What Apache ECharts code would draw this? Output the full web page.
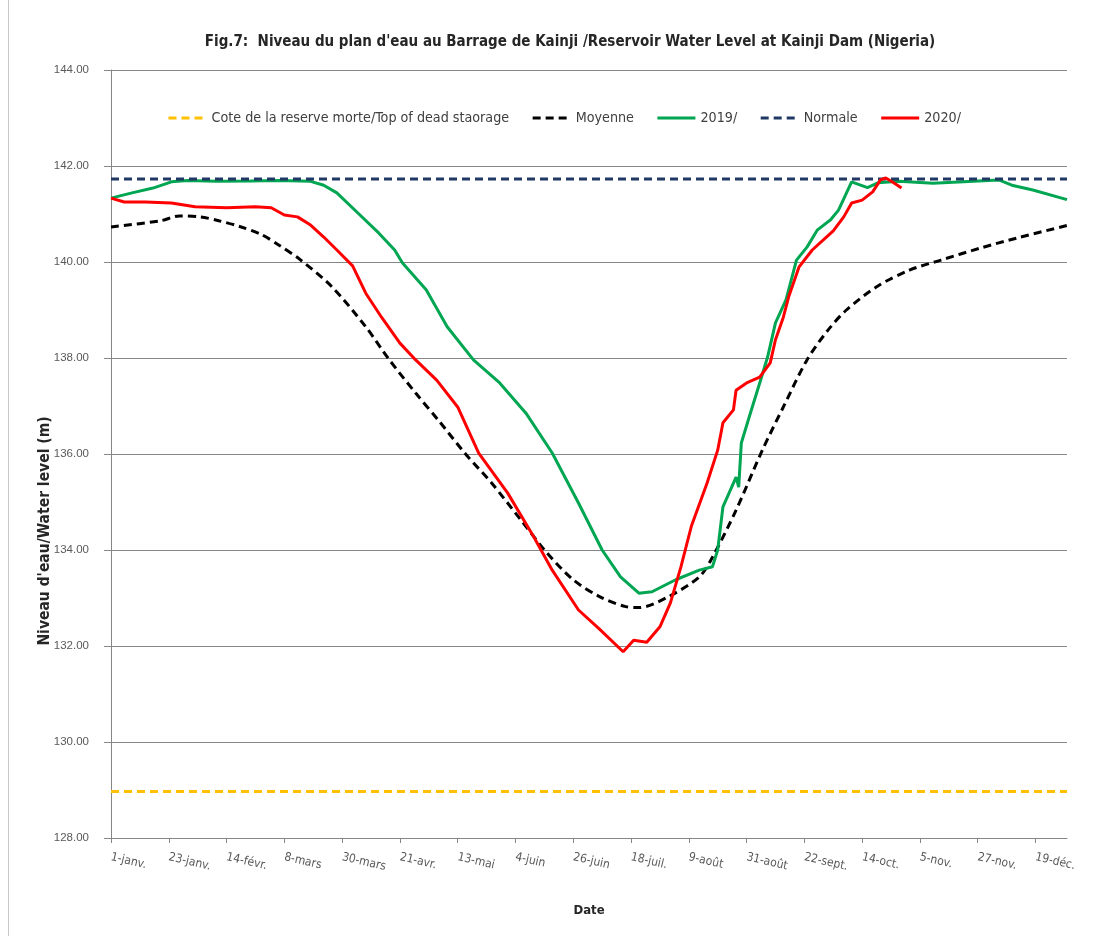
<!DOCTYPE html>
<html>
<head>
<meta charset="utf-8">
<script src="https://cdn.jsdelivr.net/npm/echarts@6/dist/echarts.min.js"></script>
<style>
html,body{margin:0;padding:0;background:#fff;}
#chart{width:1108px;height:936px;}
</style>
</head>
<body>
<div id="chart"></div>
<script>
// ---- Data (day of year, 0 = 1-janv.) ----
const tickLabels = ['1-janv.','23-janv.','14-févr.','8-mars','30-mars','21-avr.','13-mai','4-juin','26-juin','18-juil.','9-août','31-août','22-sept.','14-oct.','5-nov.','27-nov.','19-déc.'];
const yTicks = [128,130,132,134,136,138,140,142,144];

const deadStorageLevel = 128.97;
const normaleLevel = 141.73;

const moyDays = [0,19,26,34,41,49,57,64,72,84,97,106,116,125,135,145,156,166,176,186,196,201,212,224,229,238,248,256,265,273,280,292,304,316,331,345,364];
const moyVals = [140.73,140.86,140.96,140.94,140.86,140.74,140.58,140.35,140.05,139.49,138.65,137.96,137.27,136.68,136.0,135.39,134.63,133.94,133.38,133.03,132.82,132.8,133.02,133.44,133.85,134.83,136.08,136.98,137.96,138.58,139.0,139.5,139.83,140.04,140.29,140.5,140.76];

const y2019Days = [0,8,16,23,29,40,53,64,76,81,86,94,102,108,111,120,128,138,148,158,168,178,187,194,201,206,215,224,229,231,233,238,239,240,243,247,250,253,257,261,265,269,274,277,282,288,292,300,313,338,343,351,364];
const y2019Vals = [141.33,141.44,141.54,141.67,141.70,141.68,141.69,141.70,141.68,141.6,141.44,141.02,140.6,140.25,139.98,139.42,138.65,137.96,137.48,136.85,136.02,134.98,134.0,133.44,133.1,133.13,133.38,133.58,133.65,134.0,134.9,135.52,135.31,136.23,136.77,137.48,138.02,138.73,139.21,140.04,140.31,140.67,140.88,141.08,141.67,141.55,141.65,141.68,141.64,141.71,141.6,141.5,141.3];

const y2020Days = [0,5,13,23,32,44,55,61,66,71,76,81,86,92,97,103,110,116,124,132,140,151,161,168,178,186,195,199,204,209,213,217,221,227,231,233,237,238,242,247,251,253,256,258,262,267,275,279,282,286,290,293,295,298,301];
const y2020Vals = [141.33,141.25,141.25,141.23,141.15,141.13,141.15,141.13,140.98,140.94,140.77,140.52,140.25,139.92,139.35,138.85,138.31,137.96,137.54,136.98,136.02,135.19,134.27,133.58,132.75,132.35,131.88,132.12,132.08,132.4,132.9,133.65,134.5,135.4,136.08,136.65,136.92,137.33,137.48,137.6,137.9,138.38,138.85,139.27,139.9,140.25,140.65,140.94,141.23,141.29,141.46,141.71,141.75,141.65,141.54];

const seriesNames = ['Cote de la reserve morte/Top of dead staorage','Moyenne','2019/','Normale','2020/'];

function pairs(days, vals){ return days.map((d,i)=>[d, vals[i]]); }

const chart = echarts.init(document.getElementById('chart'));
const narrow = "'Liberation Sans Narrow','DejaVu Sans Condensed','Arial Narrow',sans-serif";

const option = {
  backgroundColor:'#ffffff',
  animation:false,
  title:{
    text:"Fig.7:  Niveau du plan d'eau au Barrage de Kainji /Reservoir Water Level at Kainji Dam (Nigeria)",
    left:565, top:30, textAlign:'center',
    textStyle:{fontFamily:narrow, fontWeight:'bold', fontSize:15, color:'#262626'}
  },
  legend:{
    left:162, top:106,
    itemWidth:38, itemHeight:10, itemGap:22,
    itemStyle:{opacity:0},
    lineStyle:{width:3},
    textStyle:{fontFamily:narrow, fontSize:14.2, color:'#404040'},
    data:seriesNames
  },
  grid:{left:111, right:41, top:70, bottom:98, containLabel:false},
  xAxis:{
    type:'value', min:0, max:364, interval:22,
    axisLine:{show:true, lineStyle:{color:'#868686', width:1}},
    axisTick:{show:true, length:5, lineStyle:{color:'#868686'}},
    splitLine:{show:false},
    axisLabel:{
      showMaxLabel:false,
      rotate:-13, margin:19,
      fontFamily:narrow, fontSize:12, color:'#595959',
      formatter:function(v){ const i=Math.round(v/22); return (v%22===0 && tickLabels[i]) ? tickLabels[i] : ''; }
    },
    name:'Date', nameLocation:'middle', nameGap:66,
    nameTextStyle:{fontFamily:narrow, fontWeight:'bold', fontSize:13, color:'#262626'}
  },
  yAxis:{
    type:'value', min:yTicks[0], max:yTicks[yTicks.length-1], interval:2,
    axisLine:{show:true, lineStyle:{color:'#868686', width:1}},
    axisTick:{show:true, length:7, lineStyle:{color:'#868686'}},
    splitLine:{show:true, lineStyle:{color:'#868686', width:1}},
    axisLabel:{margin:22, fontFamily:"'Liberation Sans','DejaVu Sans',sans-serif", fontSize:11.5, color:'#595959',
      formatter:function(v){return v.toFixed(2);}}
  },
  graphic:[
    {type:'line', shape:{x1:8.5,y1:0,x2:8.5,y2:936}, style:{stroke:'#c8c8c8', lineWidth:1}, silent:true},
    {type:'text', x:45, y:531, rotation:Math.PI/2,
      style:{text:"Niveau d'eau/Water level (m)", fill:'#262626', font:"bold 15.5px 'DejaVu Sans Condensed','Liberation Sans',sans-serif", textAlign:'center', textVerticalAlign:'middle'}}
  ],
  series:[
    {name:seriesNames[0], type:'line', symbol:'none', data:[[0,deadStorageLevel],[364,deadStorageLevel]],
      lineStyle:{color:'#FFC000', width:3, type:[8,5]}, itemStyle:{color:'#FFC000'}},
    {name:seriesNames[1], type:'line', symbol:'none', data:pairs(moyDays,moyVals), smooth:0.3,
      lineStyle:{color:'#000000', width:3, type:[8,5]}, itemStyle:{color:'#000000'}},
    {name:seriesNames[2], type:'line', symbol:'none', data:pairs(y2019Days,y2019Vals),
      lineStyle:{color:'#00A651', width:3}, itemStyle:{color:'#00A651'}},
    {name:seriesNames[3], type:'line', symbol:'none', data:[[0,normaleLevel],[364,normaleLevel]],
      lineStyle:{color:'#1F3864', width:3, type:[8,5]}, itemStyle:{color:'#1F3864'}},
    {name:seriesNames[4], type:'line', symbol:'none', data:pairs(y2020Days,y2020Vals),
      lineStyle:{color:'#FF0000', width:3}, itemStyle:{color:'#FF0000'}}
  ]
};
chart.setOption(option);
</script>
</body>
</html>
